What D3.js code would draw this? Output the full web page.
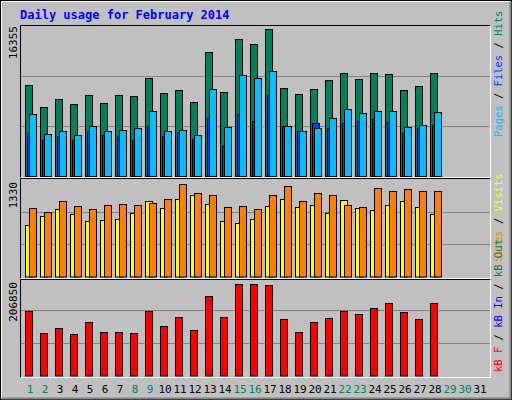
<!DOCTYPE html>
<html><head><meta charset="utf-8">
<script src="https://cdn.jsdelivr.net/npm/d3@7"></script>
<style>body{margin:0;background:#fff}svg{display:block}</style>
</head><body><svg id="c" width="512" height="400"></svg>
<script>
const days = d3.range(1, 32);
const weekend = [1,2,8,9,15,16,22,23,29,30];
const hits  = [9922,7523,8395,7850,8832,7959,8832,8722,10685,9050,9377,8068,13520,9159,14937,14392,16028,9595,8941,9486,10467,11230,10576,11230,11121,9377,9813,11230];
const pages = [6760,4579,4906,4470,5452,4906,5015,5233,7087,4906,5015,4470,9486,5343,11012,10685,11448,5452,4906,5233,6324,7305,6869,7087,7087,5343,5561,6978];
const files = [4688,3925,4361,3925,4906,4470,4252,3925,5452,4361,4797,4034,6324,3271,6760,5997,8831,5452,4906,5779,5234,5779,5997,6215,5888,4688,5234,5561];
const visits = [711,836,933,864,767,781,794,877,1044,947,1071,1127,1002,767,739,794,975,1071,961,988,877,1058,947,919,988,1044,961,864];
const sites  = [947,891,1044,975,933,989,1002,989,1016,1072,1280,1155,1127,961,975,933,1127,1252,1044,1155,1127,989,961,1224,1183,1210,1183,1183];
const kbytes = [135795,89357,99911,87246,112576,91468,91468,89357,135795,104133,123130,95690,167457,123130,192786,192786,190676,118908,91468,112576,121019,135795,129462,142127,152681,133684,118908,152681];
const maxHits = 16355, maxSites = 1330, maxKB = 206850;

const svg = d3.select("#c");
const F = "'DejaVu Sans Mono', monospace";
// frame
svg.append("rect").attr("x",0.5).attr("y",0.5).attr("width",511).attr("height",399).attr("fill","#c0c0c0").attr("stroke","#000");
svg.append("path").attr("d","M1.5,398.5V1.5H510.5").attr("fill","none").attr("stroke","#fff");
svg.append("path").attr("d","M2,398.5H510.5V2").attr("fill","none").attr("stroke","#808080").attr("stroke-width",2);
svg.append("text").attr("x",20).attr("y",19).attr("font-family",F).attr("font-weight","bold").attr("font-size",12).attr("fill","#0000ff").text("Daily usage for February 2014");

const x = d3.scaleBand().domain(days).range([22,487]).paddingInner(0);
// x = 25 + 15*(i-1)
const bx = d => x(d) + 3;

function panel(y0, y1){
  svg.append("path").attr("d",`M20.5,${y1}V${y0+0.5}H490.5`).attr("fill","none").attr("stroke","#000");
  svg.append("path").attr("d",`M20.5,${y1-0.5}H490.5V${y0+0.5}`).attr("fill","none").attr("stroke","#fff");
}
function grid(y){ [1/3,2/3].forEach(f=>{const gy=Math.round(y(y.domain()[1]*f))+0.5;
  svg.append("line").attr("x1",21).attr("x2",490).attr("y1",gy).attr("y2",gy).attr("stroke","#808080");});}
function bars(data, y, off, w, color){
  svg.append("g").selectAll("rect").data(data).join("rect")
    .attr("x",(d,i)=>bx(i+1)+off+0.5).attr("width",w)
    .attr("y",d=>Math.round(y(d))+0.5).attr("height",d=>y(0)-Math.round(y(d)))
    .attr("fill",color).attr("stroke","#000");
}
function ylab(txt, y0){
  svg.append("text").attr("transform",`translate(17,${y0}) rotate(-90)`).attr("text-anchor","end")
    .attr("font-family",F).attr("font-size",11).attr("fill","#000").text(txt);
}
function rlegend(parts, yb){
  const t = svg.append("text").attr("transform",`translate(502,${yb}) rotate(-90)`)
    .attr("font-family",F).attr("font-size",10.5);
  parts.forEach(p=>t.append("tspan").attr("fill",p[1]).text(p[0]));
}

// top panel
panel(25,178);
const y1 = d3.scaleLinear().domain([0,maxHits]).range([176,26]);
grid(y1);
bars(hits,y1,0,7,"#00805c");
bars(files,y1,2,7,"#0040ff");
bars(pages,y1,4,7,"#00c0ff");
ylab("16355",26);
rlegend([["Pages","#00c0ff"],[" / ","#000"],["Files","#0040ff"],[" / ","#000"],["Hits","#00805c"]],137);

// middle panel
panel(178,279);
const y2 = d3.scaleLinear().domain([0,maxSites]).range([276.5,180]);
grid(y2);
bars(visits,y2,0,7,"#ffff00");
bars(sites,y2,4,7,"#ff8000");
ylab("1330",182);
rlegend([["Sites","#ff8000"],[" / ","#000"],["Visits","#ffff00"]],262);

// bottom panel
panel(279,378);
const y3 = d3.scaleLinear().domain([0,maxKB]).range([375.5,277.5]);
grid(y3);
bars(kbytes,y3,0,7,"#ff0000");
ylab("206850",282);
rlegend([["kB F","#ff0000"],[" / ","#000"],["kB In","#0000ff"],[" / ","#000"],["kB Out","#00805c"]],372);

// day labels
svg.append("g").selectAll("text").data(days).join("text")
  .attr("x",d=>bx(d)+5).attr("y",393).attr("text-anchor","middle")
  .attr("font-family",F).attr("font-size",11)
  .attr("fill",d=>weekend.includes(d)?"#00805c":"#000").text(d=>d);
</script></body></html>
